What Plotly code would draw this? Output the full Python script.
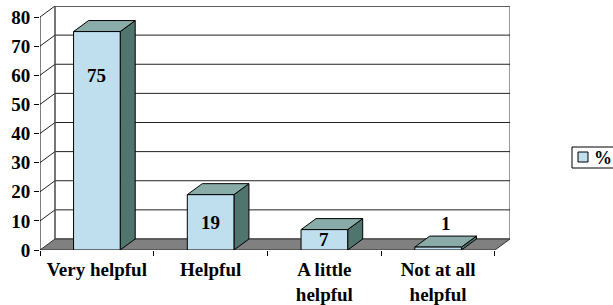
import plotly.graph_objects as go

# ---- data ----
categories = ["Very helpful", "Helpful", "A little<br>helpful", "Not at all<br>helpful"]
values = [75, 19, 7, 1]
y_tick_values = [0, 10, 20, 30, 40, 50, 60, 70, 80]
series_name = "%"

# ---- style / geometry ----
FONT = "Times New Roman, Liberation Serif, serif"
FS = 19
DX = 0.132      # depth offset (x units)
DY = 3.78       # depth offset (y units)
HALF = 0.205    # half bar width
YMAX = 80
N = len(categories)
C_FRONT = "#BFDFEF"
C_TOP = "#8AACA8"
C_SIDE = "#50756F"
C_FLOOR = "#808080"
W, H = 613, 305
ML, MR, MT, MB = 40, 103, 6, 55

fig = go.Figure()

def poly(xs, ys, fill, line="black", width=1):
    fig.add_trace(go.Scatter(x=xs, y=ys, mode="lines", fill="toself", fillcolor=fill,
                             line=dict(color=line, width=width), hoverinfo="skip",
                             showlegend=False))

def seg(xs, ys, color="black", width=1):
    fig.add_trace(go.Scatter(x=xs, y=ys, mode="lines", line=dict(color=color, width=width),
                             hoverinfo="skip", showlegend=False))

# back wall
poly([DX, N + DX, N + DX, DX, DX], [DY, DY, YMAX + DY, YMAX + DY, DY], "white", "#999999", 2)
# gridlines on back wall and side wall
gx, gy = [], []
for v in y_tick_values[1:]:
    gx += [0, DX, N + DX, None]
    gy += [v, v + DY, v + DY, None]
seg(gx, gy, "#222222", 1)
seg([DX, DX], [DY, YMAX + DY], "#555555", 1)
# floor
poly([0, N, N + DX, DX, 0], [0, 0, DY, DY, 0], C_FLOOR, "#333333", 1)
# front axis
seg([0, 0], [0, YMAX], "black", 1)

# bars
for i, v in enumerate(values):
    c = i + 0.5
    l, r = c - HALF, c + HALF
    poly([r, r + DX, r + DX, r, r], [0, DY, v + DY, v, 0], C_SIDE)
    poly([l, r, r + DX, l + DX, l], [v, v, v + DY, v + DY, v], C_TOP)
    poly([l, r, r, l, l], [0, 0, v, v, 0], C_FRONT)
    if v >= 5:
        fig.add_annotation(x=c, y=max(v / 2, v - 15), text=str(v), showarrow=False,
                           xref="x", yref="y", yanchor="middle",
                           font=dict(family=FONT, size=FS, color="black", weight="bold"))
    else:
        fig.add_annotation(x=c + DX / 2, y=v + DY, text=str(v), showarrow=False,
                           xref="x", yref="y", yanchor="bottom", yshift=0,
                           font=dict(family=FONT, size=FS, color="black", weight="bold"))

# manual legend (placed in pixel terms converted to paper)
pw, ph = W - ML - MR, H - MT - MB
def px_x(p): return (p - ML) / pw
def px_y(p): return (H - MB - p) / ph
fig.add_shape(type="rect", xref="paper", yref="paper", x0=px_x(572), x1=px_x(650),
              y0=px_y(168), y1=px_y(147), line=dict(color="black", width=1), fillcolor="white")
fig.add_shape(type="rect", xref="paper", yref="paper", x0=px_x(578), x1=px_x(588),
              y0=px_y(162), y1=px_y(152), line=dict(color="black", width=1), fillcolor=C_FRONT)
fig.add_annotation(xref="paper", yref="paper", x=px_x(592), y=px_y(157.5), text=series_name,
                   showarrow=False, xanchor="left", yanchor="middle",
                   font=dict(family=FONT, size=FS - 1, color="black", weight="bold"))

fig.update_layout(
    width=W, height=H, margin=dict(l=ML, r=MR, t=MT, b=MB, autoexpand=False),
    paper_bgcolor="white", plot_bgcolor="white", showlegend=False,
    font=dict(family=FONT, size=FS, color="black"),
    xaxis=dict(range=[0, N + DX], showgrid=False, zeroline=False, showline=False,
               automargin=False,
               tickvals=[i + 0.5 for i in range(N)], ticktext=categories, ticks="",
               tickfont=dict(family=FONT, size=FS, color="black", weight="bold"),
               ticklabelstandoff=6,
               minor=dict(tickvals=list(range(N + 1)), ticks="outside", ticklen=5,
                          tickcolor="black", tickwidth=1, showgrid=False),
               fixedrange=True),
    yaxis=dict(range=[0, YMAX + DY], showgrid=False, zeroline=False, showline=False,
               automargin=False,
               tickvals=y_tick_values, ticks="outside", ticklen=5, tickcolor="black",
               tickfont=dict(family=FONT, size=FS, color="black", weight="bold"),
               fixedrange=True),
)

fig.write_html("out.html", config={"displayModeBar": False},
               post_script="document.body.style.margin='0';")
